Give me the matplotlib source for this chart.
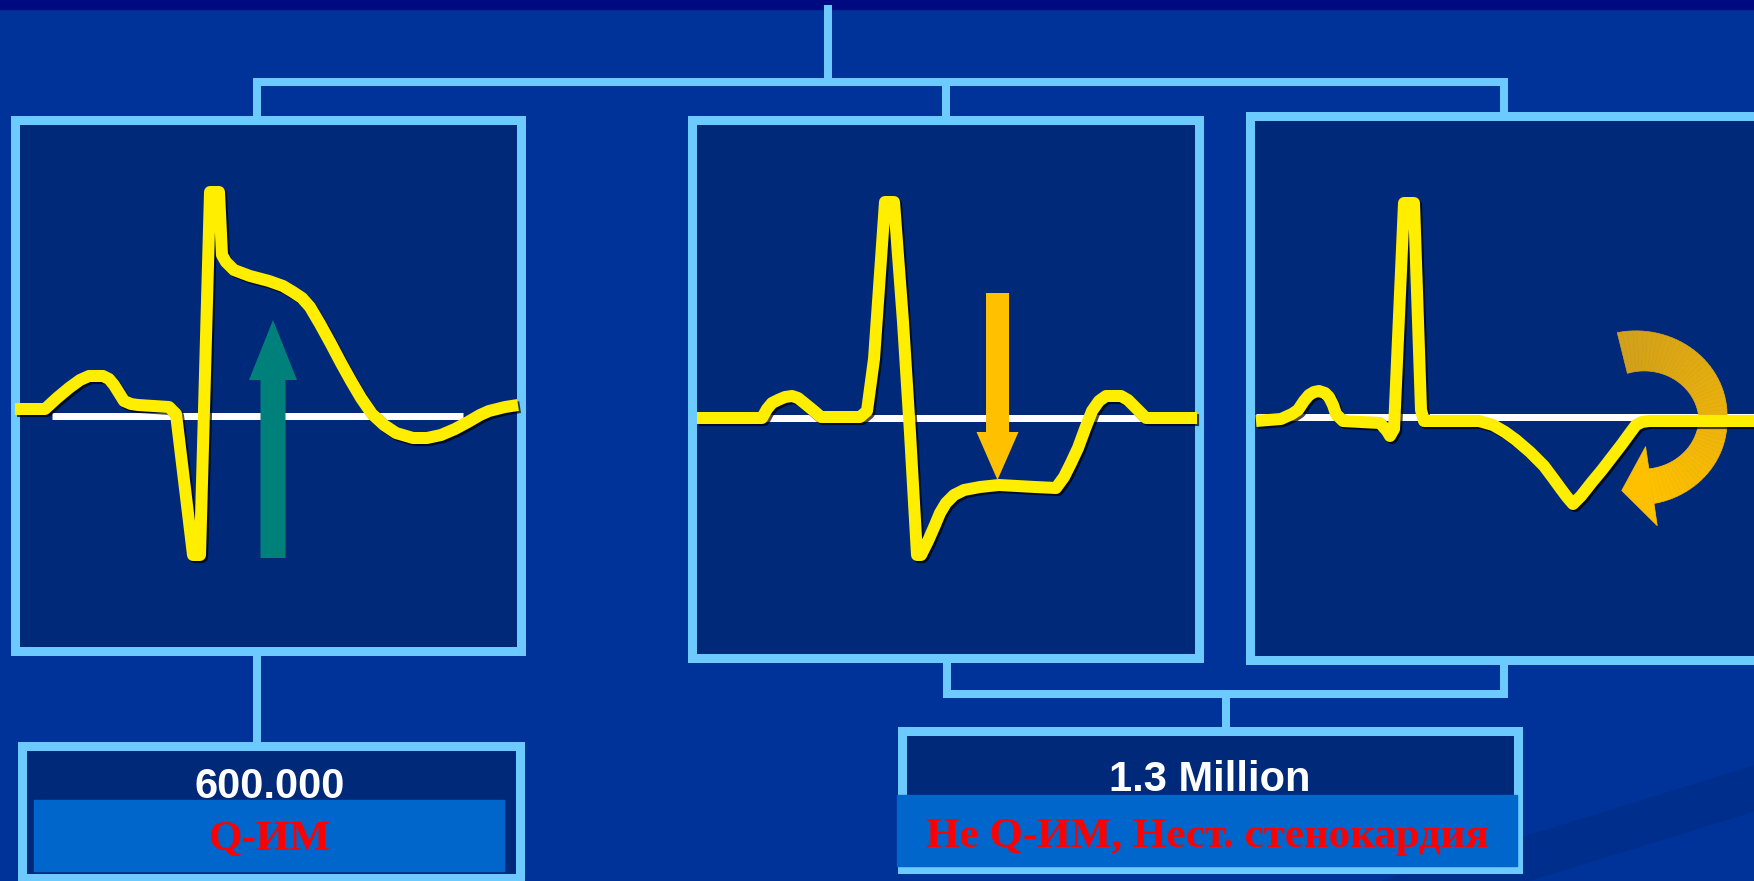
import numpy as np
import matplotlib.pyplot as plt
from matplotlib.patches import Rectangle, Polygon, FancyArrow
import matplotlib.patheffects as pe

W, H = 1754, 881
PX = 0.72  # points per pixel at dpi 100

# ECG traces, pixel coordinates (y grows downward)
ecg_stemi_x = [15, 45, 57, 69, 80, 89, 103, 109, 114, 124, 131, 138, 169, 176, 193, 200,
               210, 219, 222, 226, 234, 250, 269, 283, 293, 302, 310, 320, 331, 341, 351,
               361, 372, 384, 396, 413, 427, 441, 455, 468, 480, 489, 505, 518]
ecg_stemi_y = [409, 409, 398, 388, 380, 376, 376, 379, 385, 401, 404, 405, 407, 414, 555, 555,
               192, 192, 255, 262, 270, 276, 281, 286, 292, 298, 307, 324, 344, 363, 381,
               398, 414, 425, 433, 438, 438, 435, 429, 422, 415, 411, 407, 405]

ecg_std_x = [697, 762, 767, 772, 778, 785, 792, 798, 803, 814, 821, 860, 867, 874, 885, 894,
             903, 910, 917, 921, 928, 935, 940, 946, 954, 964, 980, 999, 1035, 1056, 1064,
             1071, 1078, 1085, 1092, 1099, 1106, 1121, 1128, 1135, 1141, 1146, 1197]
ecg_std_y = [418, 418, 409, 403, 400, 397, 396, 398, 402, 411, 417, 417, 411, 359, 202, 202,
             322, 433, 555, 555, 541, 525, 513, 503, 495, 490, 487, 485, 487, 488, 477,
             463, 448, 429, 411, 401, 396, 396, 400, 407, 413, 418, 418]

ecg_twi_x = [1256, 1281, 1292, 1298, 1304, 1309, 1314, 1319, 1325, 1329, 1333, 1336, 1343,
             1380, 1387, 1390, 1394, 1404, 1414, 1421, 1424, 1479, 1493, 1505, 1516, 1530,
             1544, 1553, 1561, 1567, 1573, 1581, 1592, 1602, 1612, 1622, 1630, 1636, 1642,
             1649, 1754]
ecg_twi_y = [421, 419, 414, 410, 401, 395, 392, 391, 393, 397, 405, 414, 421,
             423, 431, 436, 429, 203, 203, 410, 421, 421, 425, 432, 440, 452,
             466, 478, 489, 497, 504, 496, 482, 470, 457, 444, 433, 425, 422,
             421, 421]

# isoelectric lines: (x0, x1, y)
isolines = [(52, 463, 416), (700, 1195, 418), (1256, 1754, 417)]

counts = ["600.000", "1.3 Million"]
labels = ["Q-ИМ", "Не Q-ИМ, Нест. стенокардия"]

bg = "#003399"
navy = "#00297a"
light = "#6ccaff"
yellow = "#ffee00"

fig = plt.figure(figsize=(W / 100, H / 100), dpi=100)
fig.patch.set_facecolor(bg)
ax = fig.add_axes([0, 0, 1, 1])
ax.set_xlim(0, W)
ax.set_ylim(H, 0)
ax.axis("off")
ax.set_facecolor(bg)

# top band and faint swoosh
ax.add_patch(Rectangle((0, 0), W, 9, color="#000a80", zorder=1))
ax.add_patch(Polygon([(1380, 881), (1754, 765), (1754, 812), (1530, 881)],
                     closed=True, color="#002a80", alpha=0.45, lw=0, zorder=0.5))

# connector lines
conn = dict(color=light, lw=8 * PX, solid_capstyle="projecting", zorder=2)
ax.plot([828, 828], [9, 82], **conn)
ax.plot([257, 1504], [82, 82], **conn)
for x in (257, 946, 1504):
    ax.plot([x, x], [82, 116], **conn)
ax.plot([257, 257], [650, 746], **conn)
ax.plot([947, 947], [657, 694], **conn)
ax.plot([1504, 1504], [659, 694], **conn)
ax.plot([947, 1504], [694, 694], **conn)
ax.plot([1226, 1226], [694, 731], **conn)

# panels (border centre coordinates)
def panel(x0, y0, x1, y1):
    ax.add_patch(Rectangle((x0, y0), x1 - x0, y1 - y0, facecolor=navy,
                           edgecolor=light, lw=9 * PX, zorder=3))

panel(14.5, 119.5, 520.5, 650.5)
panel(691.5, 119.5, 1198.5, 657.5)
panel(1250, 115.5, 1790, 659.5)
panel(21.5, 746, 519.5, 878)
panel(902, 731, 1517.5, 869)

# isoelectric lines
for x0, x1, y in isolines:
    ax.plot([x0, x1], [y, y], color="white", lw=7 * PX, solid_capstyle="butt", zorder=4)

# straight arrows
ax.add_patch(FancyArrow(273, 558, 0, 320 - 558, width=25, head_width=48, head_length=60,
                        length_includes_head=True, color="#00807a", lw=0, zorder=5))
ax.add_patch(FancyArrow(997.5, 293, 0, 480 - 293, width=23, head_width=42, head_length=48,
                        length_includes_head=True, color="#ffc000", lw=0, zorder=7))

# curved arrow in the right panel
def curved_arrow(cx, cy, rx, ry, th0, th1, t0, tm, t1, head_w, head_l, c0, c1, n=60):
    thd = np.linspace(th0, th1, n)
    th = np.radians(thd)
    t = np.interp(thd, [th1, 0, th0], [t1, tm, t0])
    ox, oy = cx + (rx + t / 2) * np.cos(th), cy - (ry + t / 2) * np.sin(th)
    ix, iy = cx + (rx - t / 2) * np.cos(th), cy - (ry - t / 2) * np.sin(th)
    a = np.array(plt.matplotlib.colors.to_rgb(c0))
    b = np.array(plt.matplotlib.colors.to_rgb(c1))
    for i in range(n - 1):
        col = a + (b - a) * i / (n - 2)
        ax.add_patch(Polygon([(ox[i], oy[i]), (ox[i + 1], oy[i + 1]),
                              (ix[i + 1], iy[i + 1]), (ix[i], iy[i])],
                             closed=True, facecolor=col, edgecolor=col, lw=0.5, zorder=5))
    te = th[-1]
    ex, ey = cx + rx * np.cos(te), cy - ry * np.sin(te)
    d = np.array([rx * np.sin(te), ry * np.cos(te)])
    d /= np.hypot(*d)
    nv = np.array([-d[1], d[0]])
    head = [(ex + nv[0] * head_w / 2, ey + nv[1] * head_w / 2),
            (ex + d[0] * head_l, ey + d[1] * head_l),
            (ex - nv[0] * head_w / 2, ey - nv[1] * head_w / 2)]
    ax.add_patch(Polygon(head, closed=True, facecolor=b, edgecolor=b, lw=0.5, zorder=5))

curved_arrow(1640, 419, 73, 68, 104, -81, 42, 28, 35, 80, 30, "#d2a01a", "#ffc000")

# ECG traces with a dark drop shadow
shadow = [pe.SimpleLineShadow(offset=(1.5, -1.5), shadow_color="black", alpha=0.7), pe.Normal()]
for xs, ys in [(ecg_stemi_x, ecg_stemi_y), (ecg_std_x, ecg_std_y), (ecg_twi_x, ecg_twi_y)]:
    ax.plot(xs, ys, color=yellow, lw=12 * PX, solid_joinstyle="round",
            solid_capstyle="butt", path_effects=shadow, zorder=6)

# count texts
ax.text(270, 798, counts[0], color="white", fontsize=30, fontweight="bold",
        family="Liberation Sans", ha="center", va="baseline", zorder=8)
ax.text(1210, 791, counts[1], color="white", fontsize=30, fontweight="bold",
        family="Liberation Sans", ha="center", va="baseline", zorder=8)

# blue label strips with red captions
ax.add_patch(Rectangle((34, 800), 470, 71, color="#0066cc", zorder=9))
ax.add_patch(Rectangle((897, 795), 620, 71, color="#0066cc", zorder=9))
ax.text(270, 850, labels[0], color="red", fontsize=31, fontweight="bold",
        family="Liberation Serif", ha="center", va="baseline", zorder=10)
ax.text(1207, 847, labels[1], color="red", fontsize=31, fontweight="bold",
        family="Liberation Serif", ha="center", va="baseline", zorder=10)

fig.savefig("out.png", dpi=100, facecolor=fig.get_facecolor())
